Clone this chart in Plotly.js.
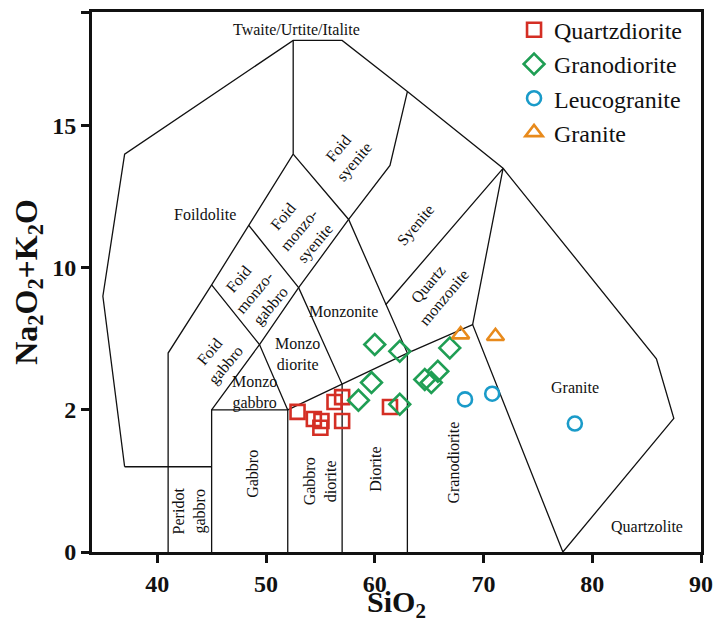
<!DOCTYPE html>
<html>
<head>
<meta charset="utf-8">
<script src="https://cdn.plot.ly/plotly-3.0.1.min.js"></script>
<style>html,body{margin:0;padding:0;background:#fff;}#chart{width:717px;height:623px;}</style>
</head>
<body>
<div id="chart"></div>
<script>
// ---- Sample data (SiO2 wt%, Na2O+K2O wt%) ----
const quartzdioriteX = [52.9, 54.4, 55.1, 55.0, 56.3, 57.0, 57.0, 61.4];
const quartzdioriteY = [4.93, 4.68, 4.61, 4.37, 5.28, 5.45, 4.61, 5.10];
const granodioriteX = [60.0, 62.3, 59.7, 58.5, 62.3, 66.9, 64.6, 65.2, 65.8];
const granodioriteY = [7.30, 7.06, 5.96, 5.34, 5.20, 7.18, 6.07, 5.96, 6.36];
const leucograniteX = [68.3, 70.8, 78.4];
const leucograniteY = [5.37, 5.57, 4.52];
const graniteX = [67.9, 71.1];
const graniteY = [7.65, 7.59];

// ---- Field boundaries (segments separated by null) ----
const boundaryX = [
  37, 35, 37, 52.5, 57, 63, 71.8, 85.9, 87.5, 77.3, null,
  37, 45, null,
  41, 41, 45, 48.4, 52.5, 52.5, null,
  45, 45, 52, 52, null,
  45, 49.4, 53, 57.6, 61.4, 63, null,
  45, 49.4, 52, null,
  48.4, 53, 57, 57, null,
  52.5, 57.6, 63, 63, null,
  52, 57, 63, 69, 77.3, null,
  61, 71.8, 69, null
];
const boundaryY = [
  3, 9, 14, 18, 18, 16.2, 13.5, 6.8, 4.7, 0, null,
  3, 3, null,
  0, 7, 9.4, 11.5, 14, 18, null,
  0, 5, 5, 0, null,
  5, 7.3, 9.3, 11.7, 13.6, 16.2, null,
  9.4, 7.3, 5, null,
  11.5, 9.3, 5.9, 0, null,
  14, 11.7, 7, 0, null,
  5, 5.9, 7, 8, 0, null,
  8.7, 13.5, 8, null
];

// ---- Field names ----
const fieldNames = ["Twaite/Urtite/Italite", "Foildolite", "Foid<br>syenite", "Foid<br>monzo-<br>syenite",
  "Foid<br>monzo-<br>gabbro", "Foid<br>gabbro", "Monzo<br>diorite", "Monzo<br>gabbro", "Monzonite",
  "Syenite", "Quartz<br>monzonite", "Peridot<br>gabbro", "Gabbro", "Gabbro<br>diorite", "Diorite",
  "Granodiorite", "Granite", "Quartzolite"];
const fieldX = [52.8, 44.4, 57.4, 53.1, 49.0, 45.6, 52.9, 48.9, 57.1, 63.8, 65.6, 43.0, 48.8, 55.0, 60.0, 67.2, 78.4, 85.0];
const fieldY = [18.38, 11.86, 13.95, 11.33, 9.1, 6.8, 6.95, 5.6, 8.47, 11.5, 9.2, 1.46, 2.75, 2.5, 2.92, 3.15, 5.8, 0.9];
const fieldAngle = [0, 0, -50, -50, -50, -50, 0, 0, 0, -50, -50, -90, -90, -90, -90, -90, 0, 0];

// ---- Axes ----
const xTicks = [40, 50, 60, 70, 80, 90];
const yTickVals = [0, 5, 10, 15, 19];
const yTickText = ["0", "2", "10", "15", ""];

const serif = "'Liberation Serif', 'Times New Roman', serif";

const traces = [
  {x: boundaryX, y: boundaryY, mode: "lines", line: {color: "#111", width: 1.3},
   showlegend: false, hoverinfo: "skip", connectgaps: false},
  {x: quartzdioriteX, y: quartzdioriteY, name: "Quartzdiorite", mode: "markers",
   marker: {symbol: "square-open", size: 14, color: "#d42e24", line: {width: 2.6, color: "#d42e24"}}},
  {x: granodioriteX, y: granodioriteY, name: "Granodiorite", mode: "markers",
   marker: {symbol: "diamond-open", size: 16, color: "#1f9e54", line: {width: 2.6, color: "#1f9e54"}}},
  {x: leucograniteX, y: leucograniteY, name: "Leucogranite", mode: "markers",
   marker: {symbol: "circle-open", size: 14, color: "#1a9bc9", line: {width: 2.6, color: "#1a9bc9"}}},
  {x: graniteX, y: graniteY, name: "Granite", mode: "markers",
   marker: {symbol: "triangle-up-open", size: 15, color: "#e88a1c", line: {width: 2.6, color: "#e88a1c"}}}
];

const annotations = fieldNames.map((t, i) => ({
  x: fieldX[i], y: fieldY[i], xref: "x", yref: "y", text: t, showarrow: false,
  textangle: fieldAngle[i], xanchor: "center", yanchor: "middle",
  font: {family: serif, size: 16, color: "#111"}
}));

const layout = {
  width: 717, height: 623,
  margin: {l: 92, r: 16, t: 8, b: 71, pad: 0},
  paper_bgcolor: "#ffffff", plot_bgcolor: "#ffffff",
  showlegend: true,
  legend: {x: 0.693, y: 1.008, xanchor: "left", yanchor: "top", bgcolor: "rgba(0,0,0,0)",
    font: {family: serif, size: 24, color: "#111"}, tracegroupgap: 0, itemwidth: 30},
  xaxis: {range: [34, 90], tickvals: xTicks, ticks: "outside", ticklen: 8, tickwidth: 3,
    tickcolor: "#111", showline: true, linewidth: 3, linecolor: "#111", mirror: true,
    showgrid: false, zeroline: false,
    tickfont: {family: serif, size: 24, color: "#111", weight: "bold"},
    title: {text: "SiO<sub>2</sub>", font: {family: serif, size: 30, color: "#111", weight: "bold"}, standoff: 9}},
  yaxis: {range: [0, 19], tickvals: yTickVals, ticktext: yTickText, ticks: "outside", ticklen: 8, tickwidth: 3,
    tickcolor: "#111", showline: true, linewidth: 3, linecolor: "#111", mirror: true,
    showgrid: false, zeroline: false,
    tickfont: {family: serif, size: 24, color: "#111", weight: "bold"},
    title: {text: "Na<sub>2</sub>O<sub>2</sub>+K<sub>2</sub>O", font: {family: serif, size: 32, color: "#111", weight: "bold"}, standoff: 6}},
  annotations: annotations
};

Plotly.newPlot("chart", traces, layout, {displayModeBar: false, staticPlot: true});
</script>
</body>
</html>
